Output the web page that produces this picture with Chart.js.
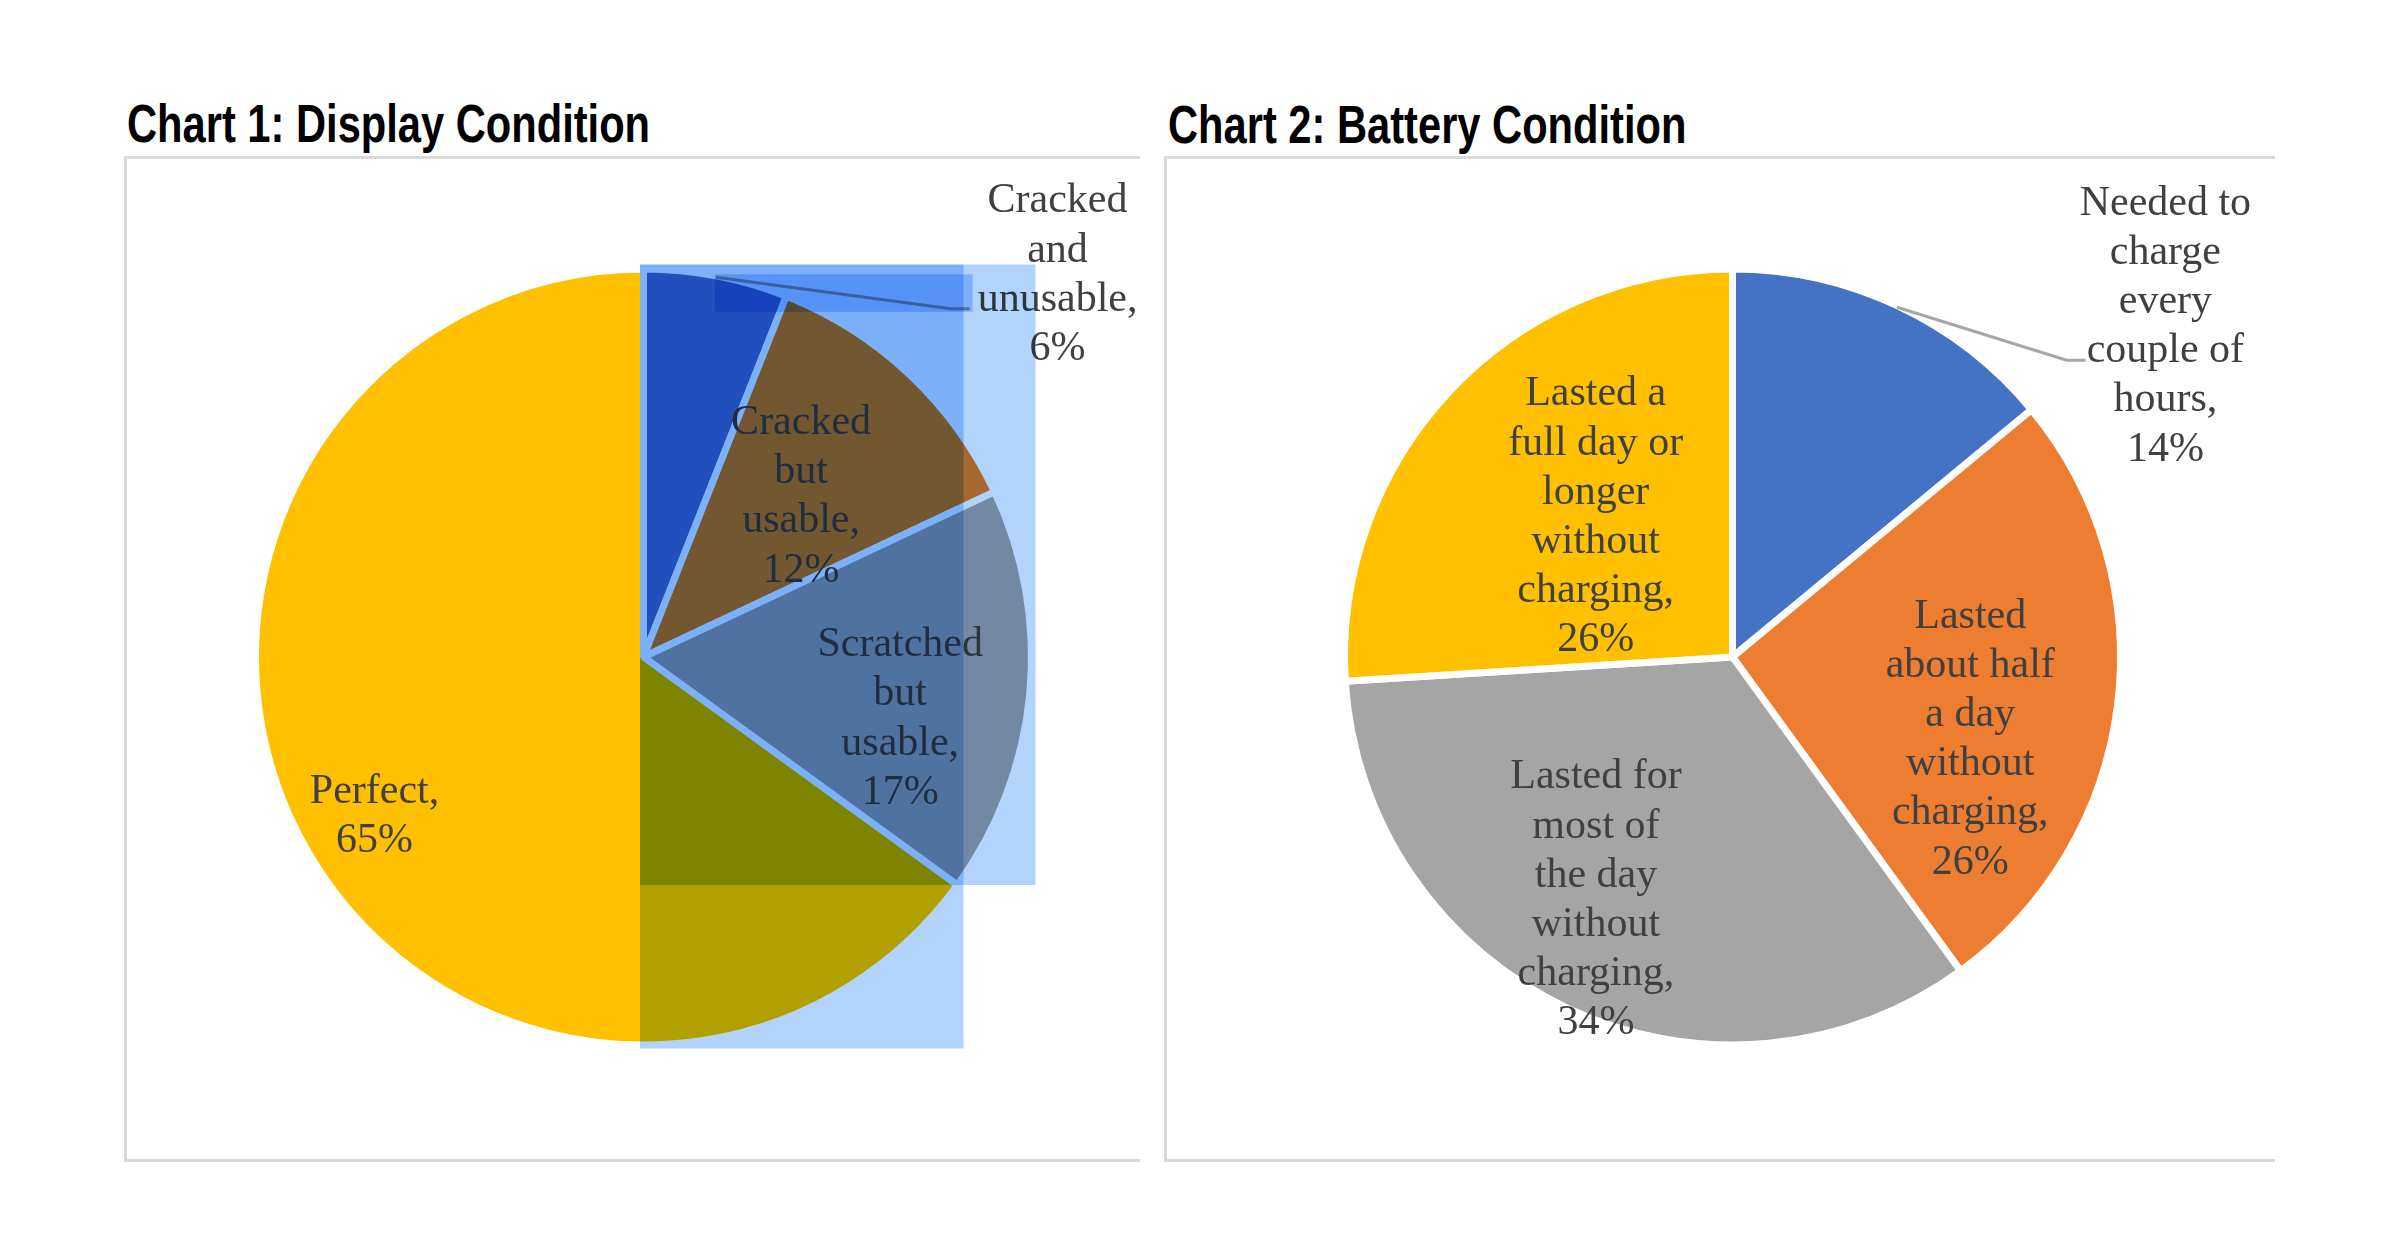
<!DOCTYPE html>
<html>
<head>
<meta charset="utf-8">
<script src="https://cdn.jsdelivr.net/npm/chart.js@4.4.1/dist/chart.umd.min.js"></script>
<style>
  html, body { margin: 0; padding: 0; background: #ffffff; }
  #page { position: relative; width: 2400px; height: 1260px; overflow: hidden; background: #ffffff; }
  .title { position: absolute; font-family: 'Liberation Sans', Arial, sans-serif; font-weight: bold;
           font-size: 53px; line-height: 53px; color: #000000; white-space: nowrap;
           transform: scaleX(0.786); transform-origin: 0 0; }
  .box { position: absolute; box-sizing: border-box; border-left: 3px solid #d9d9d9;
         border-top: 3px solid #d9d9d9; border-bottom: 3px solid #d9d9d9; }
  canvas { position: absolute; }
</style>
</head>
<body>
<div id="page">
  <div class="title" style="left:127px; top:97px;">Chart 1: Display Condition</div>
  <div class="title" style="left:1168px; top:98px;">Chart 2: Battery Condition</div>
  <div class="box" style="left:124px; top:156px; width:1016px; height:1006px;"></div>
  <div class="box" style="left:1164px; top:156px; width:1111px; height:1006px;"></div>
  <canvas id="c1" width="1022" height="1000" style="left:124px; top:157px; width:1022px; height:1000px;"></canvas>
  <canvas id="c2" width="1121" height="1000" style="left:1165px; top:157px; width:1121px; height:1000px;"></canvas>
</div>
<script>
// ---------- data ----------
const displayCategories = ["Cracked and unusable", "Cracked but usable", "Scratched but usable", "Perfect"];
const displayValues = [6, 12, 17, 65];
const displayLabelLines = [["Cracked", "and", "unusable,"], ["Cracked", "but", "usable,"], ["Scratched", "but", "usable,"], ["Perfect,"]];

const batteryCategories = ["Needed to charge every couple of hours", "Lasted about half a day without charging",
                           "Lasted for most of the day without charging", "Lasted a full day or longer without charging"];
const batteryValues = [14, 26, 34, 26];
const batteryLabelLines = [["Needed to", "charge", "every", "couple of", "hours,"],
                           ["Lasted", "about half", "a day", "without", "charging,"],
                           ["Lasted for", "most of", "the day", "without", "charging,"],
                           ["Lasted a", "full day or", "longer", "without", "charging,"]];

// ---------- style ----------
const palette = ["#4472C4", "#ED7D31", "#A5A5A5", "#FFC000"];
const BORDER = 7;
const RADIUS = 388;

function labelPlugin(cfg) {
  return {
    id: 'pieLabels',
    afterDatasetsDraw(chart) {
      const ctx = chart.ctx;
      const meta = chart.getDatasetMeta(0);
      const values = chart.data.datasets[0].data;
      ctx.save();
      ctx.font = cfg.font;
      meta.data.forEach((arc, i) => {
        const p = arc.getProps(['x', 'y', 'startAngle', 'endAngle', 'outerRadius'], true);
        const rv = p.outerRadius - BORDER / 2;
        const midBase = (p.startAngle + p.endAngle) / 2;
        const mid = midBase + cfg.angleShift[i] * Math.PI / 180;
        const lx = p.x + Math.cos(mid) * rv * cfg.radial[i];
        const ly = p.y + Math.sin(mid) * rv * cfg.radial[i];
        const lines = cfg.lines[i].concat([values[i] + '%']);
        const n = lines.length;
        const first = ly + cfg.capHeight / 2 - (n - 1) * cfg.lineHeight / 2;
        if (cfg.leader[i] !== null) {
          const k = cfg.leader[i];
          const sx = p.x + Math.cos(midBase) * (rv + 2), sy = p.y + Math.sin(midBase) * (rv + 2);
          const w = ctx.measureText(lines[k]).width;
          const exx = lx - w / 2 - cfg.leaderGap, eyy = first + k * cfg.lineHeight - 2;
          const pts = [{x: sx, y: sy}, {x: exx - 19, y: eyy}, {x: exx, y: eyy}];
          chart.$leader = pts;
          ctx.strokeStyle = '#A6A6A6';
          ctx.lineWidth = 3;
          ctx.beginPath();
          ctx.moveTo(pts[0].x, pts[0].y);
          ctx.lineTo(pts[1].x, pts[1].y);
          ctx.lineTo(pts[2].x, pts[2].y);
          ctx.stroke();
        }
        ctx.fillStyle = cfg.color;
        ctx.textAlign = 'center';
        ctx.textBaseline = 'alphabetic';
        lines.forEach((t, k) => ctx.fillText(t, lx, first + k * cfg.lineHeight));
      });
      ctx.restore();
    }
  };
}

// selection highlight boxes seen over chart 1
const selectionPlugin = {
  id: 'selection',
  afterDraw(chart) {
    const ctx = chart.ctx;
    const arcs = chart.getDatasetMeta(0).data;
    const p0 = arcs[0].getProps(['x', 'y', 'outerRadius'], true);
    const rv = p0.outerRadius - BORDER / 2;
    const e = arcs[2].getProps(['endAngle'], true).endAngle;
    const ex = p0.x + Math.cos(e) * rv, ey = p0.y + Math.sin(e) * rv;
    const rects = [
      [p0.x - 3.5, p0.y - rv - 8, ex + 9, p0.y + rv + 7],
      [p0.x - 3.5, p0.y - rv - 8, p0.x + rv + 7.5, ey + 2]
    ];
    if (chart.$leader) {
      const L = chart.$leader;
      rects.push([L[0].x - 1, L[0].y - 3, L[2].x + 3, L[2].y + 3]);
    }
    ctx.save();
    ctx.globalCompositeOperation = 'multiply';
    ctx.fillStyle = 'rgb(178,212,252)';
    rects.forEach(r => ctx.fillRect(r[0], r[1], r[2] - r[0], r[3] - r[1]));
    ctx.restore();
  }
};

function makePie(id, cats, vals, pad, labelCfg, extra) {
  return new Chart(document.getElementById(id), {
    type: 'pie',
    data: {
      labels: cats,
      datasets: [{
        data: vals,
        backgroundColor: palette,
        borderColor: '#ffffff',
        borderWidth: BORDER,
        radius: RADIUS
      }]
    },
    options: {
      responsive: false,
      devicePixelRatio: 1,
      animation: false,
      events: [],
      layout: { padding: pad },
      plugins: { legend: { display: false }, tooltip: { enabled: false }, title: { display: false } }
    },
    plugins: [labelPlugin(labelCfg)].concat(extra)
  });
}

makePie('c1', displayCategories, displayValues, {left: 17, right: 0, top: 0, bottom: 0}, {
  font: '42px "Liberation Serif", "Times New Roman", serif',
  color: '#404040',
  lineHeight: 49.2,
  capHeight: 28,
  lines: displayLabelLines,
  radial: [1.47, 0.590, 0.685, 0.809],
  angleShift: [36.3, 0.8, 7.55, -3.15],
  leader: [2, null, null, null],
  leaderGap: 8
}, [selectionPlugin]);

makePie('c2', batteryCategories, batteryValues, {left: 14, right: 0, top: 0, bottom: 0}, {
  font: '42px "Liberation Serif", "Times New Roman", serif',
  color: '#404040',
  lineHeight: 49.2,
  capHeight: 28,
  lines: batteryLabelLines,
  radial: [1.421, 0.652, 0.719, 0.514],
  angleShift: [27.2, 11.3, 4.4, 3.0],
  leader: [3, null, null, null],
  leaderGap: 1
}, []);
</script>
</body>
</html>
